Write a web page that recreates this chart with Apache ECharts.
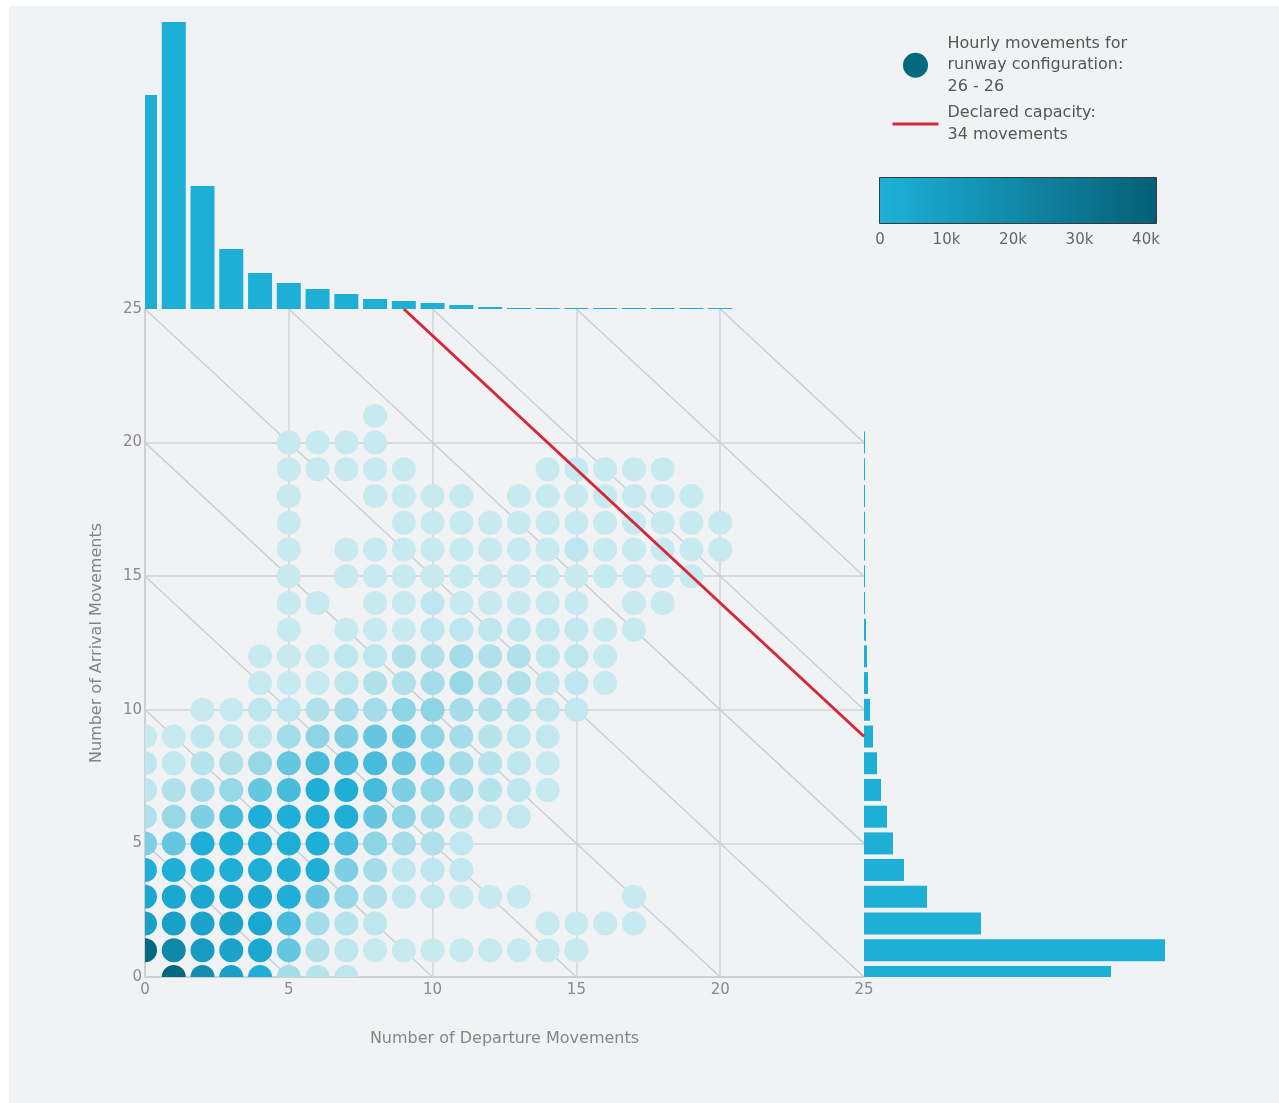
<!DOCTYPE html>
<html>
<head>
<meta charset="utf-8">
<script src="https://cdn.jsdelivr.net/npm/echarts@6/dist/echarts.min.js"></script>
<style>
  html, body { margin: 0; padding: 0; background: #ffffff; }
  #chart { position: absolute; left: 9px; top: 6px; width: 1270px; height: 1097px; background: #f1f2f4; }
</style>
</head>
<body>
<div id="chart"></div>
<script>
// Hours observed for each (departures, arrivals) pair: hourlyCounts[arrivals][departures]
const hourlyCounts = [
  [0, 38000, 16000, 7000, 1400, 300, 170, 120, 0, 0, 0, 0, 0, 0, 0, 0, 0, 0, 0, 0, 0],
  [37000, 20000, 9000, 5000, 3000, 700, 220, 120, 40, 40, 40, 40, 40, 40, 40, 40, 0, 0, 0, 0, 0],
  [7000, 7000, 5000, 5000, 3000, 900, 300, 170, 120, 0, 0, 0, 0, 0, 40, 40, 40, 40, 0, 0, 0],
  [3000, 3000, 3000, 3000, 3000, 1600, 700, 400, 220, 120, 80, 40, 40, 40, 0, 0, 0, 40, 0, 0, 0],
  [1600, 1600, 2000, 2000, 2000, 2000, 1600, 550, 300, 120, 120, 80, 0, 0, 0, 0, 0, 0, 0, 0, 0],
  [550, 700, 1600, 1600, 1600, 1600, 1600, 900, 450, 300, 220, 80, 0, 0, 0, 0, 0, 0, 0, 0, 0],
  [220, 400, 550, 900, 1600, 1600, 1600, 1600, 700, 450, 300, 170, 80, 80, 0, 0, 0, 0, 0, 0, 0],
  [120, 220, 300, 400, 700, 900, 1600, 1600, 900, 550, 400, 300, 170, 120, 40, 0, 0, 0, 0, 0, 0],
  [120, 60, 170, 220, 400, 700, 900, 900, 900, 700, 550, 300, 170, 120, 40, 0, 0, 0, 0, 0, 0],
  [40, 40, 120, 120, 120, 300, 450, 550, 700, 700, 450, 300, 170, 120, 80, 0, 0, 0, 0, 0, 0],
  [0, 0, 40, 40, 120, 120, 220, 300, 300, 450, 450, 300, 220, 170, 120, 80, 0, 0, 0, 0, 0],
  [0, 0, 0, 0, 40, 40, 40, 120, 220, 220, 300, 400, 220, 220, 120, 120, 40, 0, 0, 0, 0],
  [0, 0, 0, 0, 40, 40, 40, 120, 120, 220, 220, 300, 220, 220, 120, 120, 40, 0, 0, 0, 0],
  [0, 0, 0, 0, 0, 40, 0, 40, 40, 40, 120, 120, 120, 120, 80, 80, 40, 40, 0, 0, 0],
  [0, 0, 0, 0, 0, 40, 40, 0, 40, 40, 120, 40, 40, 40, 40, 40, 0, 40, 40, 0, 0],
  [0, 0, 0, 0, 0, 40, 0, 40, 40, 40, 40, 40, 40, 40, 40, 40, 40, 40, 40, 40, 0],
  [0, 0, 0, 0, 0, 40, 0, 40, 40, 40, 40, 40, 40, 40, 40, 120, 40, 40, 40, 40, 40],
  [0, 0, 0, 0, 0, 40, 0, 0, 0, 40, 40, 40, 40, 40, 40, 40, 40, 40, 40, 40, 40],
  [0, 0, 0, 0, 0, 40, 0, 0, 40, 40, 40, 40, 0, 40, 40, 40, 40, 40, 40, 40, 0],
  [0, 0, 0, 0, 0, 40, 40, 40, 40, 40, 0, 0, 0, 0, 40, 40, 40, 40, 40, 0, 0],
  [0, 0, 0, 0, 0, 40, 40, 40, 40, 0, 0, 0, 0, 0, 0, 0, 0, 0, 0, 0, 0],
  [0, 0, 0, 0, 0, 0, 0, 0, 40, 0, 0, 0, 0, 0, 0, 0, 0, 0, 0, 0, 0]
];

// Marginal totals (hours) by number of departures and by number of arrivals
const departureTotals = [53500, 71750, 30750, 15000, 9000, 6500, 5000, 3750, 2500, 2000, 1500, 1000, 500, 250, 250, 250, 250, 250, 250, 250, 250];
const arrivalTotals = [61750, 75250, 29250, 15750, 10000, 7250, 5750, 4250, 3250, 2250, 1500, 1000, 750, 500, 250, 250, 250, 250, 250, 250, 250];

// Guide lines of constant total movements, and the declared capacity
const totalMovementGuides = [5, 10, 15, 20, 25, 30, 35, 40, 45];
const declaredCapacity = 34;

// Colour bands for the hour counts
const countBreaks = [0, 60, 100, 145, 195, 260, 350, 430, 500, 620, 800, 1200, 2500, 4000, 6000, 8000, 12000, 18000, 28000];
const countColors = ['#c6eaf0', '#c1e8ef', '#bde6ee', '#b6e4ed', '#b0e1eb', '#a5dce9', '#97d8e7', '#8dd4e5', '#7dcfe3', '#65c6e0', '#46bbdc', '#1eaed6', '#1aa8d0', '#1aa4cb', '#18a0c6', '#179bc0', '#138eb0', '#0f88a5', '#04687f'];

// Colour scale ticks
const scaleTicks = [0, 10000, 20000, 30000, 40000];

const AXIS_MAX = 25;
const FONT = 'DejaVu Sans';
const BAR_COLOR = '#1eafd6';
const scatterName = 'Hourly movements for\nrunway configuration:\n26 - 26';
const capacityName = 'Declared capacity:\n34 movements';

const points = [];
hourlyCounts.forEach((row, arr) => {
  row.forEach((c, dep) => { if (c > 0) points.push([dep, arr, c]); });
});

const pieces = countBreaks.map((lo, i) => {
  const p = { gte: lo, color: countColors[i] };
  if (i + 1 < countBreaks.length) p.lt = countBreaks[i + 1];
  return p;
});

const guideLines = totalMovementGuides.map(s => ({
  coords: [[Math.max(0, s - AXIS_MAX), Math.min(s, AXIS_MAX)], [Math.min(s, AXIS_MAX), Math.max(0, s - AXIS_MAX)]]
}));

const gridColor = '#d2d3d5';
const labelStyle = { color: '#8a8a8a', fontFamily: FONT, fontSize: 15 };

// Dots, clipped to the plotting area so edge rows show as half circles
function renderDot(params, api) {
  const p = api.coord([api.value(0), api.value(1)]);
  return { type: 'circle', shape: { cx: p[0], cy: p[1], r: 12 }, style: { fill: api.visual('color') } };
}
// Vertical histogram bars (departures), centred on each integer
function renderColumn(params, api) {
  const base = api.coord([api.value(0), 0]);
  const top = api.coord([api.value(0), api.value(1)]);
  return { type: 'rect', shape: { x: base[0] - 12, y: top[1], width: 24, height: base[1] - top[1] }, style: { fill: BAR_COLOR } };
}
// Horizontal histogram bars (arrivals)
function renderRow(params, api) {
  const base = api.coord([0, api.value(1)]);
  const end = api.coord([api.value(0), api.value(1)]);
  return { type: 'rect', shape: { x: base[0], y: base[1] - 11, width: end[0] - base[0], height: 22 }, style: { fill: BAR_COLOR } };
}

const chart = echarts.init(document.getElementById('chart'), null, { renderer: 'canvas' });

chart.setOption({
  backgroundColor: '#f1f2f4',
  animation: false,
  textStyle: { fontFamily: FONT },
  grid: [
    { left: 136, top: 303, width: 719, height: 668 },   // main dot plot
    { left: 136, top: 3, width: 719, height: 300 },     // departures histogram
    { left: 855, top: 303, width: 320, height: 668 },   // arrivals histogram
    { left: 871, top: 216, width: 266, height: 2 }      // colour scale ticks
  ],
  xAxis: [
    {
      gridIndex: 0, type: 'value', min: 0, max: AXIS_MAX, interval: 5,
      name: 'Number of Departure Movements', nameLocation: 'middle', nameGap: 54,
      nameTextStyle: { color: '#858585', fontFamily: FONT, fontSize: 16 },
      axisLine: { show: true, lineStyle: { color: '#cfd0d2', width: 2 } },
      axisTick: { show: false },
      axisLabel: Object.assign({ margin: 6 }, labelStyle),
      splitLine: { show: true, showMaxLine: false, lineStyle: { color: gridColor, width: 1.5 } }
    },
    { gridIndex: 1, type: 'value', min: 0, max: AXIS_MAX, show: false },
    { gridIndex: 2, type: 'value', min: 0, max: 80000, show: false },
    {
      gridIndex: 3, type: 'value', min: 0, max: 40000, interval: 10000,
      axisLine: { show: false }, axisTick: { show: false }, splitLine: { show: false },
      axisLabel: Object.assign({ margin: 9, formatter: v => v === 0 ? '0' : (v / 1000) + 'k' }, labelStyle, { color: '#666' })
    }
  ],
  yAxis: [
    {
      gridIndex: 0, type: 'value', min: 0, max: AXIS_MAX, interval: 5,
      name: 'Number of Arrival Movements', nameLocation: 'middle', nameGap: 40, nameRotate: 90,
      nameTextStyle: { color: '#858585', fontFamily: FONT, fontSize: 16 },
      axisLine: { show: true, lineStyle: { color: '#cfd0d2', width: 2 } },
      axisTick: { show: false },
      axisLabel: Object.assign({ margin: 3 }, labelStyle),
      splitLine: { show: true, showMaxLine: false, lineStyle: { color: gridColor, width: 1.5 } }
    },
    { gridIndex: 1, type: 'value', min: 0, max: 75000, show: false },
    { gridIndex: 2, type: 'value', min: 0, max: AXIS_MAX, show: false },
    { gridIndex: 3, type: 'value', show: false }
  ],
  visualMap: [{
    type: 'piecewise', show: false, seriesIndex: 2, dimension: 2, pieces: pieces
  }],
  legend: {
    orient: 'vertical', left: 882, top: 27, padding: 0,
    itemWidth: 46, itemHeight: 25, itemGap: 5, selectedMode: false,
    textStyle: { color: '#555', fontFamily: FONT, fontSize: 16, lineHeight: 21.5, padding: [0, 0, 0, 4] },
    data: [
      { name: scatterName, icon: 'circle', itemStyle: { color: '#04687f' } },
      { name: capacityName, itemStyle: { opacity: 0 }, lineStyle: { color: '#d22a3b', width: 3 } }
    ]
  },
  graphic: [{
    type: 'rect', left: 870, top: 171, z: 10,
    shape: { width: 277, height: 46 },
    style: {
      fill: new echarts.graphic.LinearGradient(0, 0, 1, 0, [
        { offset: 0, color: '#1db1d9' }, { offset: 1, color: '#045f75' }
      ]),
      stroke: '#3a3a3a', lineWidth: 1
    }
  }],
  series: [
    {
      type: 'lines', coordinateSystem: 'cartesian2d', xAxisIndex: 0, yAxisIndex: 0,
      data: guideLines, silent: true, z: 1,
      lineStyle: { color: '#cdcecf', width: 1.5, opacity: 1 }
    },
    {
      name: capacityName, type: 'line', xAxisIndex: 0, yAxisIndex: 0, z: 4,
      data: [[declaredCapacity - AXIS_MAX, AXIS_MAX], [AXIS_MAX, declaredCapacity - AXIS_MAX]],
      showSymbol: false, symbol: 'circle',
      lineStyle: { color: '#d22a3b', width: 3 }, itemStyle: { color: '#d22a3b' }
    },
    {
      name: scatterName, type: 'custom', xAxisIndex: 0, yAxisIndex: 0, z: 3, clip: true,
      data: points, encode: { x: 0, y: 1 }, renderItem: renderDot
    },
    {
      type: 'custom', xAxisIndex: 1, yAxisIndex: 1, clip: true,
      data: departureTotals.map((v, i) => [i, v]), encode: { x: 0, y: 1 }, renderItem: renderColumn
    },
    {
      type: 'custom', xAxisIndex: 2, yAxisIndex: 2, clip: true,
      data: arrivalTotals.map((v, i) => [v, i]), encode: { x: 0, y: 1 }, renderItem: renderRow
    }
  ]
});
</script>
</body>
</html>
